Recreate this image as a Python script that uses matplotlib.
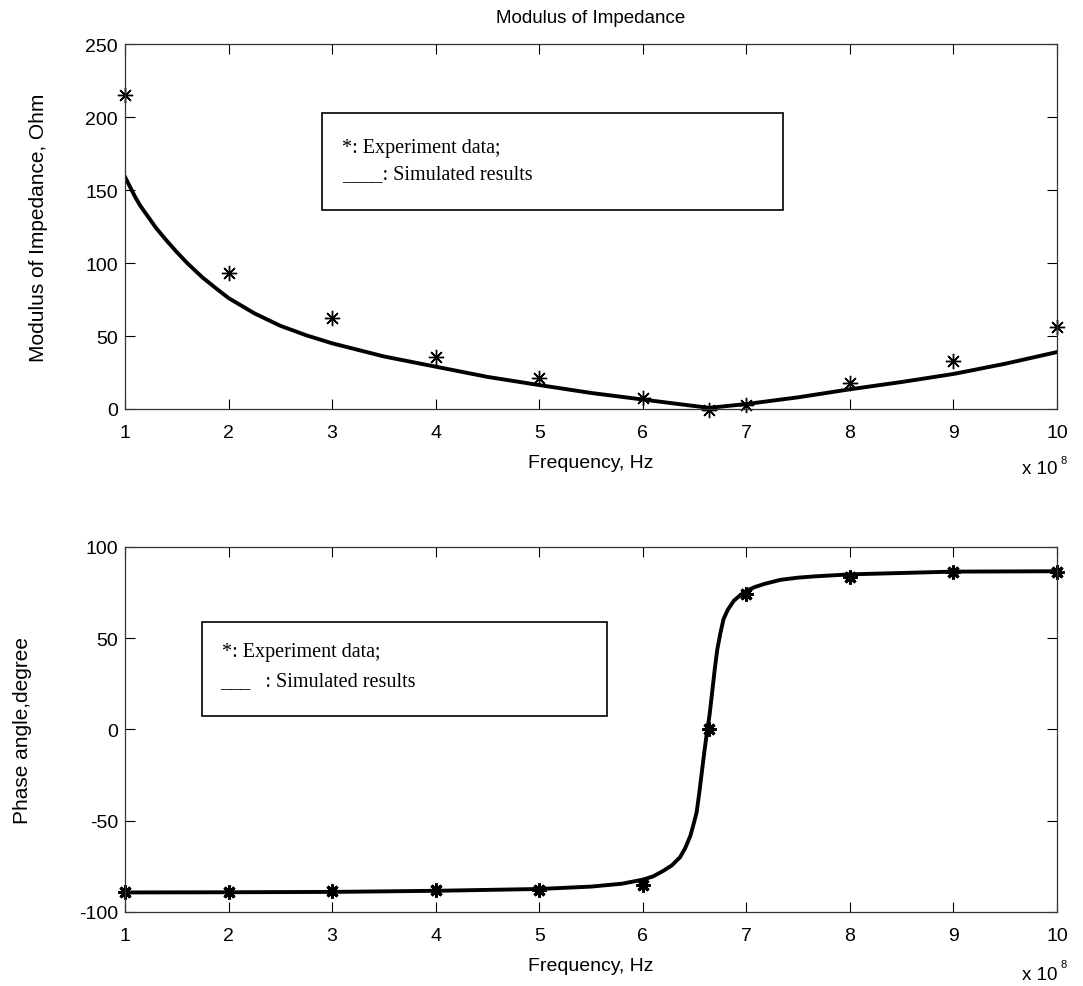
import numpy as np
import matplotlib
matplotlib.use("Agg")
import matplotlib.pyplot as plt
from matplotlib.patches import Rectangle

# frequency in units of 1e8 Hz
exp_freq = [1, 2, 3, 4, 5, 6, 6.64, 7, 8, 9, 10]
exp_modulus = [215, 93, 62, 35.5, 21, 7.3, -0.5, 2.5, 18, 33, 56]
exp_phase = [-89.2, -89.2, -88.3, -88, -88, -85.2, 0.5, 74.2, 83.4, 86.1, 86.1]

# simulated curves
sim_freq_mod = [1, 1.05, 1.1, 1.15, 1.2, 1.25, 1.3, 1.4, 1.5, 1.6, 1.75, 1.9,
                2, 2.25, 2.5, 2.75, 3, 3.5, 4, 4.5, 5, 5.5, 6, 6.3, 6.64,
                7, 7.5, 8, 8.5, 9, 9.5, 10]
sim_modulus = [159, 152, 145, 139, 134, 129, 124, 115.5, 107.5, 100, 90, 81.5,
               76, 65.5, 57, 50.5, 45, 36, 29, 22, 16.4, 11, 6.5, 3.8, 0.8,
               3.4, 8, 13.5, 18.5, 24, 31, 39]

sim_freq_ph = [1, 2, 3, 4, 5, 5.5, 5.8, 6, 6.1, 6.2, 6.28, 6.36, 6.41, 6.46,
               6.49, 6.52, 6.545, 6.57, 6.595, 6.62, 6.645, 6.67, 6.695,
               6.72, 6.75, 6.78, 6.82, 6.88, 6.94, 7, 7.08, 7.17, 7.33, 7.5,
               7.66, 8, 9, 10]
sim_phase = [-89.3, -89.2, -89, -88.4, -87.4, -86.1, -84.5, -82.3, -80.5,
             -77.4, -74.5, -70, -65, -58.2, -52, -45.4, -35, -23.5, -12,
             -1.5, 8, 20.4, 33, 44, 53, 60.5, 65.5, 70.6, 73.5, 76, 78,
             79.7, 82, 83.2, 83.9, 85, 86.5, 86.7]

xticks = list(range(1, 11))

plt.rcParams['font.family'] = ['Liberation Sans', 'DejaVu Sans']
plt.rcParams['axes.unicode_minus'] = False

fig = plt.figure(figsize=(10.83, 9.87), dpi=100)
ax1 = fig.add_axes([0.1154, 0.5846, 0.8606, 0.3698])
ax2 = fig.add_axes([0.1154, 0.0750, 0.8606, 0.3698])

asterisk = (8, 2, 0)


def style_axes(ax, yticks, ylim):
    ax.set_xlim(1, 10)
    ax.set_ylim(*ylim)
    ax.set_xticks(xticks)
    ax.set_yticks(yticks)
    ax.tick_params(direction='in', length=7, width=0.8, top=True, right=True,
                   labelsize=14, colors='black')
    ax.tick_params(axis='x', pad=11)
    ax.tick_params(axis='y', pad=5)
    for s in ax.spines.values():
        s.set_linewidth(0.9)
        s.set_color('#333333')


# --- top: modulus
ax1.plot(sim_freq_mod, sim_modulus, color='black', linewidth=2.8,
         solid_joinstyle='round')
ax1.plot(exp_freq, exp_modulus, linestyle='none', marker=asterisk,
         markersize=11, markeredgewidth=1.0, color='black', clip_on=False)
style_axes(ax1, [0, 50, 100, 150, 200, 250], (0, 250))
ax1.set_title("Modulus of Impedance", fontsize=13.5, pad=16)
ax1.set_ylabel("Modulus of Impedance, Ohm", fontsize=15)
ax1.yaxis.set_label_coords(-0.083, 0.5)
ax1.set_xlabel("Frequency, Hz", fontsize=14)
ax1.xaxis.set_label_coords(0.5, -0.122)
ax1.text(1.001, -0.164, "x 10", transform=ax1.transAxes, ha='right',
         va='center', fontsize=13.5)
ax1.text(1.004, -0.140, "8", transform=ax1.transAxes, ha='left',
         va='center', fontsize=8)

ax1.add_patch(Rectangle((0.211, 0.545), 0.495, 0.266, transform=ax1.transAxes,
                        fill=False, edgecolor='black', linewidth=1.2))
ax1.text(0.233, 0.716, "*: Experiment data;", transform=ax1.transAxes,
         family='Liberation Serif', fontsize=14.5, va='center')
ax1.text(0.233, 0.645, "____: Simulated results", transform=ax1.transAxes,
         family='Liberation Serif', fontsize=14.5, va='center')

# --- bottom: phase
ax2.plot(sim_freq_ph, sim_phase, color='black', linewidth=2.8,
         solid_joinstyle='round')
ax2.plot(exp_freq, exp_phase, linestyle='none', marker=asterisk,
         markersize=10, markeredgewidth=2.2, color='black', clip_on=False)
style_axes(ax2, [-100, -50, 0, 50, 100], (-100, 100))
ax2.set_ylabel("Phase angle,degree", fontsize=15)
ax2.yaxis.set_label_coords(-0.100, 0.5)
ax2.set_xlabel("Frequency, Hz", fontsize=14)
ax2.xaxis.set_label_coords(0.5, -0.122)
ax2.text(1.001, -0.170, "x 10", transform=ax2.transAxes, ha='right',
         va='center', fontsize=13.5)
ax2.text(1.004, -0.142, "8", transform=ax2.transAxes, ha='left',
         va='center', fontsize=8)

ax2.add_patch(Rectangle((0.0826, 0.537), 0.4344, 0.258, transform=ax2.transAxes,
                        fill=False, edgecolor='black', linewidth=1.2))
ax2.text(0.104, 0.715, "*: Experiment data;", transform=ax2.transAxes,
         family='Liberation Serif', fontsize=14.5, va='center')
ax2.text(0.102, 0.633, "___   : Simulated results", transform=ax2.transAxes,
         family='Liberation Serif', fontsize=14.5, va='center')

fig.savefig("out.png", dpi=100)
